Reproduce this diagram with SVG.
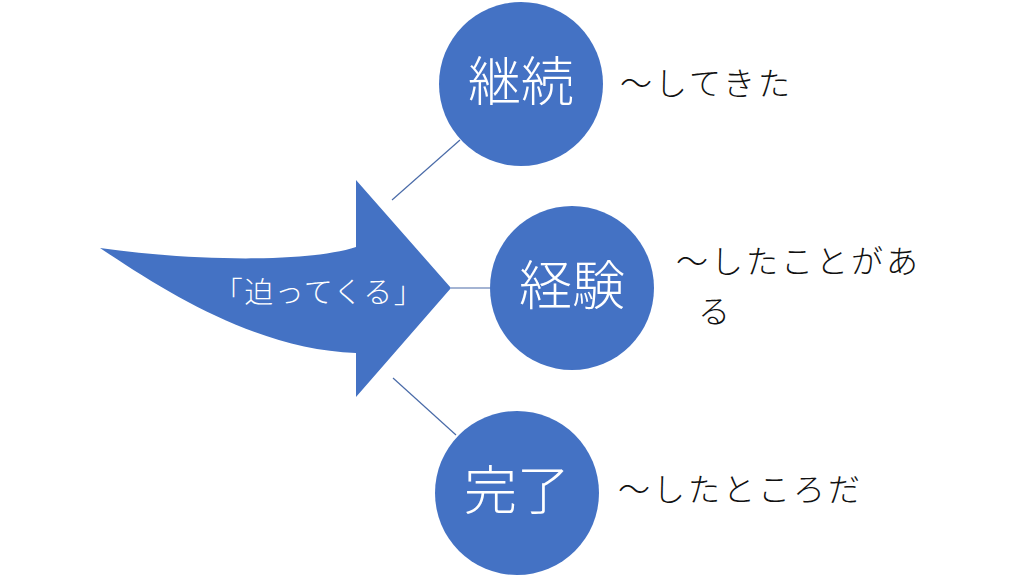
<svg xmlns="http://www.w3.org/2000/svg" width="1024" height="576" viewBox="0 0 1024 576">
  <style>
    .node { fill: #4472C4; }
    .ntext { fill: #FFFFFF; font-family: "Noto Sans CJK JP", "Noto Sans", sans-serif; font-weight: 300; font-size: 53px; text-anchor: middle; }
    .label { fill: #111111; font-family: "Noto Sans CJK JP", "Noto Sans", sans-serif; font-weight: 300; font-size: 32px; letter-spacing: 3px; }
    .atext { fill: #FFFFFF; font-family: "Noto Sans CJK JP", "Noto Sans", sans-serif; font-weight: 300; font-size: 29px; letter-spacing: 1.5px; text-anchor: middle; }
    .conn { stroke: #4A6BA8; stroke-width: 1.2; fill: none; }
  </style>
  <rect width="1024" height="576" fill="#FFFFFF"/>
  <g id="connectors">
    <line class="conn" x1="392" y1="200" x2="460" y2="140"/>
    <line class="conn" x1="451" y1="288" x2="490" y2="288"/>
    <line class="conn" x1="393" y1="378" x2="456" y2="435"/>
  </g>
  <g id="arrow">
    <path class="node" d="M100,248 C200,262 310,262 356,247 L356,180 L451,288 L356,397 L356,353 C260,350 170,295 100,248 Z"/>
    <text class="atext" x="319" y="303">「迫ってくる」</text>
  </g>
  <g id="node-keizoku">
    <circle class="node" cx="521" cy="84" r="82"/>
    <text class="ntext" x="521" y="101">継続</text>
  </g>
  <g id="node-keiken">
    <circle class="node" cx="572" cy="288" r="82"/>
    <text class="ntext" x="572" y="305">経験</text>
  </g>
  <g id="node-kanryou">
    <circle class="node" cx="517" cy="493" r="82"/>
    <text class="ntext" x="517" y="510">完了</text>
  </g>
  <g id="label-keizoku">
    <text class="label" x="620" y="95">～してきた</text>
  </g>
  <g id="label-keiken">
    <text class="label" x="676" y="273">～したことがあ</text>
    <text class="label" x="698" y="323">る</text>
  </g>
  <g id="label-kanryou">
    <text class="label" x="618" y="501">～したところだ</text>
  </g>
</svg>
